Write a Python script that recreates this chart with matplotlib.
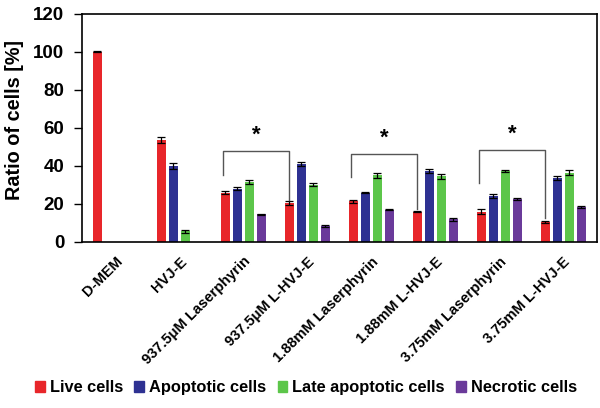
import matplotlib
matplotlib.use("Agg")
import matplotlib.pyplot as plt
import numpy as np
from matplotlib.patches import Patch

plt.rcParams['font.family'] = ['Liberation Sans', 'DejaVu Sans']
plt.rcParams['font.weight'] = 'bold'

categories = ["D-MEM", "HVJ-E", "937.5μM Laserphyrin", "937.5μM L-HVJ-E",
              "1.88mM Laserphyrin", "1.88mM L-HVJ-E", "3.75mM Laserphyrin", "3.75mM L-HVJ-E"]
series_names = ["Live cells", "Apoptotic cells", "Late apoptotic cells", "Necrotic cells"]
live = [100, 53.5, 26, 20.5, 21.5, 16, 16, 10.5]
apoptotic = [0, 40, 28, 41, 26, 37.5, 24, 33.5]
late_apoptotic = [0, 5.5, 31.5, 30, 35, 34.5, 37.5, 36.5]
necrotic = [0, 0, 14.5, 8.5, 17, 12, 22.5, 18.5]
live_err = [0.3, 1.5, 0.8, 1.2, 0.8, 0.5, 1.2, 0.4]
apoptotic_err = [0, 1.5, 0.8, 0.8, 0.4, 1.0, 1.0, 1.0]
late_err = [0, 0.8, 1.0, 0.8, 1.2, 1.5, 0.5, 1.5]
necrotic_err = [0, 0, 0.4, 0.6, 0.4, 0.8, 0.4, 0.4]
colors = ["#e8262a", "#2e3192", "#5cc64a", "#6a3a9a"]

# significance brackets: (group_a, group_b, top, left_bottom, right_bottom)
brackets = [(2, 3, 48, 35, 22), (4, 5, 46.5, 34, 17.5), (6, 7, 48.5, 31, 12.5)]

fig = plt.figure(figsize=(6.0, 4.08), dpi=100)
ax = fig.add_axes([0.137, 0.407, 0.858, 0.559])

x = np.arange(len(categories))
width = 0.14
step = 0.1875
data = [live, apoptotic, late_apoptotic, necrotic]
errs = [live_err, apoptotic_err, late_err, necrotic_err]
offsets = [-1.5 * step, -0.5 * step, 0.5 * step, 1.5 * step]
for vals, err, col, off, name in zip(data, errs, colors, offsets, series_names):
    v = np.array(vals, dtype=float)
    e = np.array(err, dtype=float)
    mask = v > 0
    ax.bar(x[mask] + off, v[mask], width, color=col, label=name,
           yerr=e[mask], error_kw=dict(ecolor='black', elinewidth=0.9, capsize=3.2, capthick=0.9))

for ga, gb, top, lb, rb in brackets:
    xa = ga + offsets[0] - 0.04
    xb = gb + offsets[0]
    ax.plot([xa, xa, xb, xb], [lb, top, top, rb], color='#555555', lw=1.0)
    ax.text((xa + xb) / 2, top + 2.5, "*", ha='center', va='bottom', fontsize=16, fontweight='bold')

ax.set_xlim(-0.52, 7.53)
ax.set_ylim(0, 120)
ax.set_yticks(np.arange(0, 121, 20))
ax.tick_params(axis='y', labelsize=13.5, length=6, width=1, pad=7)
ax.tick_params(axis='x', length=0, pad=9)
ax.set_xticks(x)
ax.set_xticklabels(categories, rotation=45, ha='right', rotation_mode='anchor',
                   fontsize=10.5, fontweight='bold')
for lbl in ax.get_yticklabels():
    lbl.set_fontweight('bold')
ax.set_ylabel("Ratio of cells [%]", fontsize=14.3, fontweight='bold')
ax.yaxis.set_label_coords(-0.113, 0.535)
for sp in ax.spines.values():
    sp.set_linewidth(1.2)

handles = [Patch(color=c) for c in colors]
fig.legend(handles, series_names, loc='center', bbox_to_anchor=(0.51, 0.05), ncol=4,
           frameon=False, handlelength=0.6, handleheight=0.6,
           handletextpad=0.3, columnspacing=0.7, prop={'weight': 'bold', 'size': 11.8})

fig.savefig("out.png", dpi=100)
